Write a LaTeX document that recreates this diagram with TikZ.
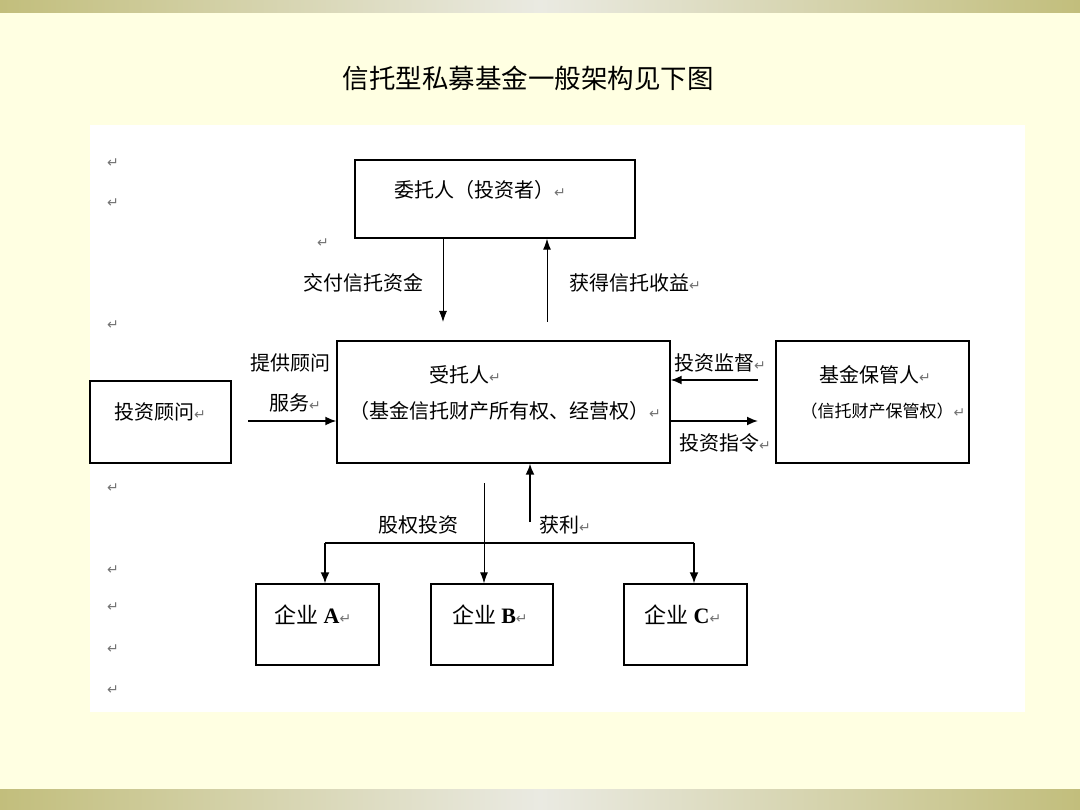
\documentclass[tikz,border=0pt]{standalone}
\usepackage{fontspec}
\setmainfont{Noto Sans CJK SC}
\newfontfamily\symfont{DejaVu Sans}
\newfontfamily\latinserif{Liberation Serif}
\usetikzlibrary{arrows.meta}

\definecolor{bandolive}{RGB}{194,190,124}
\definecolor{bandlight}{RGB}{234,234,226}
\definecolor{pagecream}{RGB}{255,255,226}

\newcommand{\retmark}{{\symfont\color{black!55}\fontsize{14}{14}\selectfont ↵}}
\newcommand{\txtsize}[1]{\fontsize{#1}{#1}\selectfont}

\begin{document}
\begin{tikzpicture}[x=1pt,y=-1pt,
    box/.style={draw,line width=1.4pt,inner sep=0pt},
    lbl/.style={inner sep=0pt,font=\txtsize{20}},
    arr/.style={-{Latex[length=11pt,width=9pt]},line width=1.7pt},
    thinarr/.style={-{Latex[length=11pt,width=8pt]},line width=0.9pt}]
    \useasboundingbox (0,0) rectangle (1080,810);
    % page
    \fill[pagecream] (0,0) rectangle (1080,810);
    \shade[left color=bandolive,right color=bandlight] (0,0) rectangle (540,13);
    \shade[left color=bandlight,right color=bandolive] (540,0) rectangle (1080,13);
    \shade[left color=bandolive,right color=bandlight] (0,789) rectangle (540,810);
    \shade[left color=bandlight,right color=bandolive] (540,789) rectangle (1080,810);
    \fill[white] (90,125) rectangle (1025,712);
    \node[inner sep=0pt,font=\txtsize{26.5}] (title) at (528,78) {信托型私募基金一般架构见下图};
    \foreach \yy in {163,203,325,488,570,607,649,690}
        \node[inner sep=0pt] at (113,\yy) {\retmark};

    % boxes
    \node[box,minimum width=280pt,minimum height=78pt] (wtr) at (495,199) {};
    \node[box,minimum width=333pt,minimum height=122pt] (sto) at (503.5,402) {};
    \node[box,minimum width=141pt,minimum height=82pt] (adv) at (160.5,422) {};
    \node[box,minimum width=193pt,minimum height=122pt] (cust) at (872.5,402) {};
    \node[box,minimum width=123pt,minimum height=81pt] (compA) at (317.5,624.5) {};
    \node[box,minimum width=122pt,minimum height=81pt] (compB) at (492,624.5) {};
    \node[box,minimum width=123pt,minimum height=81pt] (compC) at (685.5,624.5) {};

    \node[lbl] (wtrtxt) at (480,190) {委托人（投资者）\retmark};
    \node[lbl] (stotxt1) at (465,375) {受托人\retmark};
    \node[lbl] (stotxt2) at (505,411) {（基金信托财产所有权、经营权）\retmark};
    \node[lbl] (advtxt) at (160,412) {投资顾问\retmark};
    \node[lbl] (custtxt1) at (875,375) {基金保管人\retmark};
    \node[lbl,font=\txtsize{17}] (custtxt2) at (883,411) {（信托财产保管权）\retmark};
    \node[lbl,font=\txtsize{22}] (comptxtA) at (313,615) {企业 {\latinserif\bfseries A}\retmark};
    \node[lbl,font=\txtsize{22}] (comptxtB) at (490,615) {企业 {\latinserif\bfseries B}\retmark};
    \node[lbl,font=\txtsize{22}] (comptxtC) at (683,615) {企业 {\latinserif\bfseries C}\retmark};

    % free ends
    \coordinate (payend) at (443,322);
    \coordinate (gainstart) at (547,322);
    \coordinate (advstart) at (248,421);
    \coordinate (supstart) at (758,380);
    \coordinate (insend) at (758,421);
    \coordinate (invstart) at (484,483);
    \coordinate (profstart) at (530,522);
    \coordinate (brA) at (325,543);
    \coordinate (brC) at (694,543);

    % connectors
    \draw[thinarr] (wtr.south -| payend) -- (payend);
    \draw[thinarr] (gainstart) -- (wtr.south -| gainstart);
    \draw[arr] (advstart) -- (sto.west |- advstart);
    \draw[arr] (supstart) -- (sto.east |- supstart);
    \draw[arr] (sto.east |- insend) -- (insend);
    \draw[thinarr] (invstart) -- (compB.north -| invstart);
    \draw[arr] (profstart) -- (sto.south -| profstart);
    \draw[line width=1.7pt] (brA) -- (brC);
    \draw[arr] (brA) -- (compA.north -| brA);
    \draw[arr] (brC) -- (compC.north -| brC);

    % connector labels
    \node[lbl] (paylbl) at (363,283) {交付信托资金};
    \node[lbl] (gainlbl) at (635,283) {获得信托收益\retmark};
    \node[inner sep=0pt] (paymark) at (323,243) {\retmark};
    \node[lbl] (advlbl1) at (290,363) {提供顾问};
    \node[lbl] (advlbl2) at (295,403) {服务\retmark};
    \node[lbl] (suplbl) at (720,363) {投资监督\retmark};
    \node[lbl] (inslbl) at (725,443) {投资指令\retmark};
    \node[lbl] (invlbl) at (418,525) {股权投资};
    \node[lbl] (proflbl) at (565,525) {获利\retmark};
\end{tikzpicture}
\end{document}
